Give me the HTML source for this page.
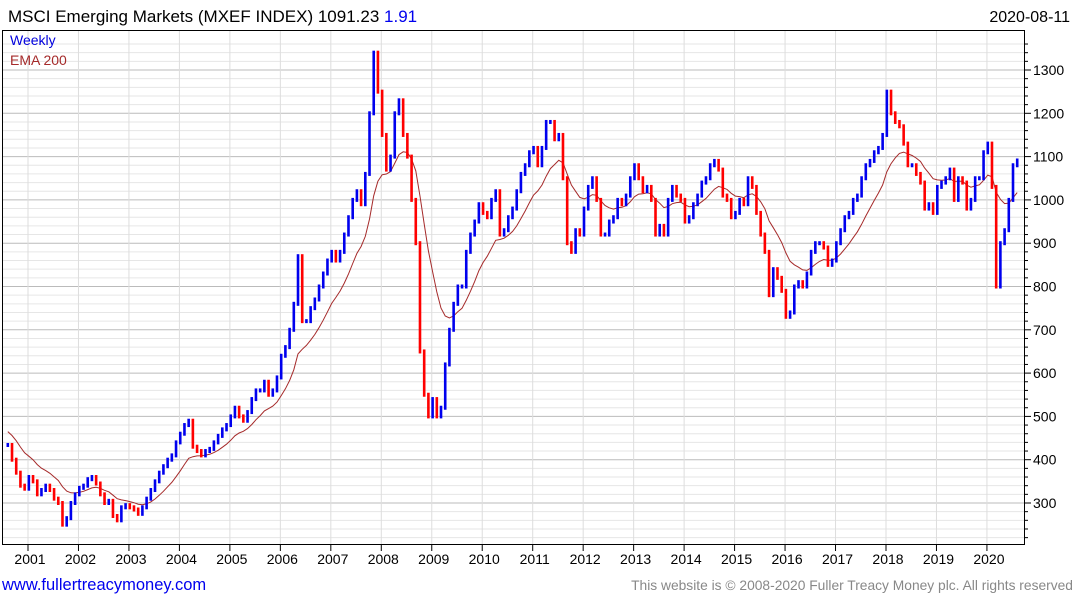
<!DOCTYPE html>
<html><head><meta charset="utf-8"><style>
body{margin:0;background:#fff;font-family:"Liberation Sans","DejaVu Sans",sans-serif}
svg{display:block}
</style></head><body>
<svg width="1075" height="600" viewBox="0 0 1075 600">
<text x="8" y="22" font-size="17" fill="#000">MSCI Emerging Markets (MXEF INDEX) 1091.23 <tspan fill="#0000ee">1.91</tspan></text>
<text x="1070" y="22" font-size="16" fill="#000" text-anchor="end">2020-08-11</text>
<g id="grid"></g>
<g id="ema"></g>
<g id="bars"></g>
<rect x="2.5" y="30.5" width="1022" height="514" fill="none" stroke="#000"/>
<g id="axes"></g>
<text x="10" y="45" font-size="14" fill="#0000dd">Weekly</text>
<text x="10" y="65" font-size="14" fill="#a52a2a">EMA 200</text>
<text x="2" y="590" font-size="16.5" fill="#0000ee">www.fullertreacymoney.com</text>
<text x="1073" y="590" font-size="13.8" fill="#888" text-anchor="end">This website is © 2008-2020 Fuller Treacy Money plc. All rights reserved</text>
</svg>
<script>
const startYear = 2000.6;
const closes = [434,400,370,340,333,
360,350,320,330,340,330,310,300,250,265,300,320,
335,340,355,360,345,320,300,305,270,260,290,295,
290,285,275,290,310,330,350,370,385,400,410,440,
460,480,490,430,420,410,420,425,440,455,470,480,
500,520,500,490,510,540,560,560,580,550,560,590,
640,660,700,760,870,720,720,750,770,800,830,860,
880,860,880,920,960,1000,1020,990,1060,1200,1340,1250,
1150,1070,1100,1200,1230,1150,1100,1000,900,650,550,500,
540,500,520,620,700,760,800,800,880,920,950,990,
970,960,1000,1020,920,930,960,980,1020,1060,1080,1110,
1120,1080,1120,1180,1180,1140,1150,1050,900,880,930,920,
980,1030,1050,1000,920,920,950,960,1000,990,1010,1050,
1080,1050,1020,1030,1000,920,940,920,1000,1030,1010,1000,
950,960,990,1010,1040,1050,1080,1090,1070,1010,1000,960,
970,1000,990,1050,1030,970,920,880,780,840,820,790,
730,740,800,810,800,830,880,900,900,890,850,860,
900,930,960,970,1000,1010,1050,1080,1090,1110,1120,1150,
1250,1200,1180,1170,1130,1080,1080,1060,1040,980,990,970,
1030,1040,1050,1070,1000,1050,1040,980,1000,1050,1050,1110,
1130,1030,800,900,930,1000,1080,1091];
const yTicks = [300,400,500,600,700,800,900,1000,1100,1200,1300];
const xYears = [2001,2002,2003,2004,2005,2006,2007,2008,2009,2010,2011,2012,2013,2014,2015,2016,2017,2018,2019,2020];
const emaSeed = 470;

const NS="http://www.w3.org/2000/svg";
function X(t){return 28+(t-2001)*50.47;}
function Y(p){return 70+(1300-p)*0.433;}
function mk(tag,attrs,parent){const e=document.createElementNS(NS,tag);for(const k in attrs)e.setAttribute(k,attrs[k]);document.getElementById(parent).appendChild(e);return e;}

for(let p=220;p<=1360;p+=20){
  if(Y(p)<31||Y(p)>544)continue;
  const major=p%100===0;
  const l=mk('line',{x1:3,x2:1024,y1:Y(p),y2:Y(p),stroke:major?'#bbb':'#e6e6e6','stroke-width':1},'grid');
  
  
  const tk=mk('line',{x1:1025,x2:major?1031:1028,y1:Y(p),y2:Y(p),stroke:'#000'},'axes');
  
  
}
yTicks.forEach(p=>{
  const t=mk('text',{x:1033,y:Y(p)+5,'font-size':14,fill:'#000'},'axes');
  t.textContent=p;
  
  
});
xYears.forEach(yr=>{
  const g=mk('line',{x1:X(yr),x2:X(yr),y1:31,y2:544,stroke:'#ddd'},'grid');
  
  
  const tk=mk('line',{x1:X(yr),x2:X(yr),y1:545,y2:551,stroke:'#000'},'axes');
  
  
  const t=mk('text',{x:X(yr)+2,y:564,'font-size':14,fill:'#000','text-anchor':'middle'},'axes');
  t.textContent=yr;
  
  
});
for(let i=0;i<closes.length;i++){
  const t=startYear+i/12;
  const o=i>0?closes[i-1]:closes[0];
  const c=closes[i];
  const hi=Math.max(o,c),lo=Math.min(o,c);
  const r=mk('rect',{x:X(t)-1.3,y:Y(hi)-2,width:2.6,height:Math.max(4,Y(lo)-Y(hi)+4),fill:c>=o?'#0000ee':'#ff0000'},'bars');
  
  
}
let e=emaSeed,pts=[];const a=0.14;
for(let i=0;i<closes.length;i++){e=e+a*(closes[i]-e);pts.push(X(startYear+i/12).toFixed(1)+','+Y(e).toFixed(1));}
const pl=mk('polyline',{points:pts.join(' '),fill:'none',stroke:'#a52a2a','stroke-width':1},'ema');


</script>
</body></html>
